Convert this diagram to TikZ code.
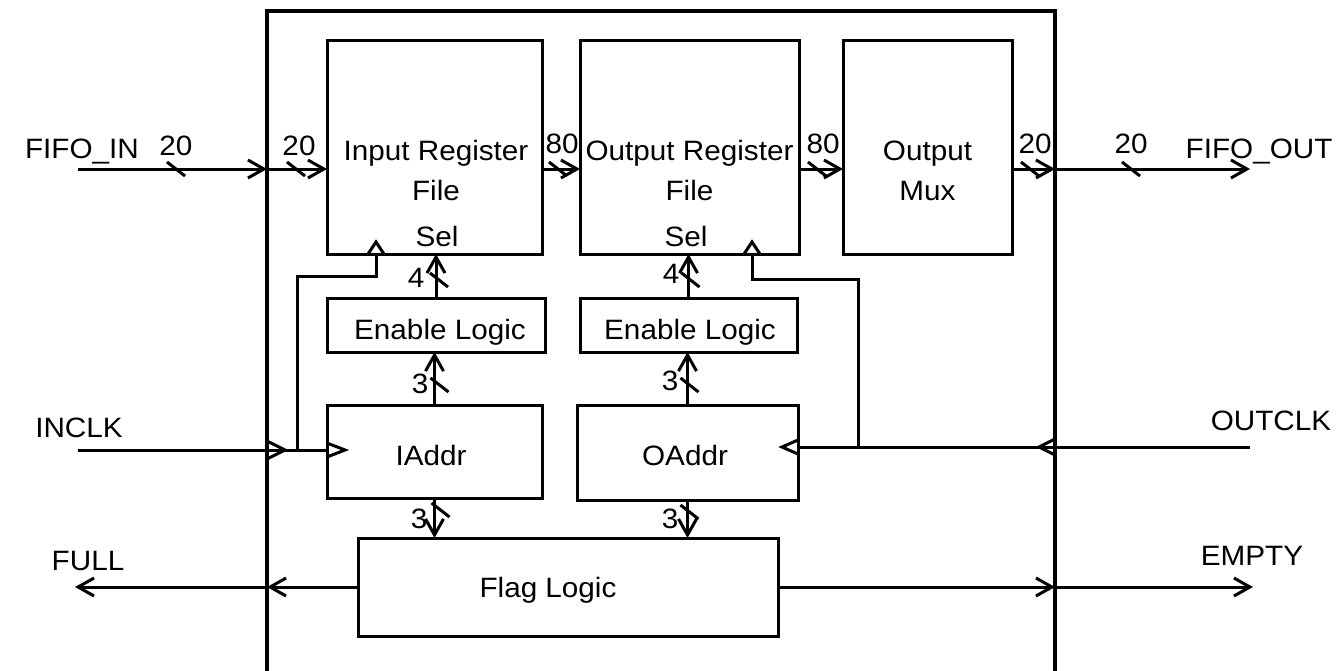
\documentclass[tikz,border=0pt]{standalone}
\usepackage{fontspec}
\setmainfont[FakeStretch=1.06]{Liberation Sans}
\usetikzlibrary{arrows.meta,calc}
\newcommand\busmark[1]{\draw #1 ++(-9,-7) -- ++(18,14);}
\newcommand\clkR[2]{\draw #1 ++(0,-#2) -- ++(18,#2) -- ++(-18,#2);}
\newcommand\clkL[2]{\draw #1 ++(0,-#2) -- ++(-16,#2) -- ++(16,#2);}
\newcommand\clkU[1]{\draw #1 ++(-8,0) -- ++(8,-12) -- ++(8,12);}
\begin{document}
\begin{tikzpicture}[x=0.5pt,y=-0.5pt,line width=1.5pt,
  box/.style={draw,inner sep=0pt,outer sep=0pt,line width=1.5pt},
  txt/.style={inner sep=0pt,outer sep=0pt,anchor=base,font=\fontsize{14pt}{16pt}\selectfont},
  arr/.style={-{Straight Barb[length=8pt,width=9pt]}}]
\useasboundingbox (0,0) rectangle (1337,670);
% outer frame
\draw[line width=2pt] (267,690) -- (267,11) -- (1055,11) -- (1055,690);
\coordinate (bL) at (267,0);
\coordinate (bR) at (1055,0);
% boxes
\node[box,minimum width=107.5pt,minimum height=107pt] (irf) at (434.5,147) {};
\node[box,minimum width=109.5pt,minimum height=107pt] (orf) at (689.5,147) {};
\node[box,minimum width=84.5pt,minimum height=107pt] (mux) at (927.5,147) {};
\node[box,minimum width=109pt,minimum height=27pt] (en1) at (436,325) {};
\node[box,minimum width=108.5pt,minimum height=27pt] (en2) at (688.5,325) {};
\node[box,minimum width=107.5pt,minimum height=46.5pt] (ia) at (434.5,451.5) {};
\node[box,minimum width=110.5pt,minimum height=47.5pt] (oa) at (687.5,452.5) {};
\node[box,minimum width=210pt,minimum height=49pt] (flag) at (568,587) {};
% box texts
\node[txt] (t1) at (436,160) {Input Register};
\node[txt] (t2) at (436,200) {File};
\node[txt] (t3) at (437,246) {Sel};
\node[txt] (t4) at (689.5,160) {Output Register};
\node[txt] (t5) at (689.5,200) {File};
\node[txt] (t6) at (686,246) {Sel};
\node[txt] (t7) at (927.5,160) {Output};
\node[txt] (t8) at (927.5,200) {Mux};
\node[txt] (t9) at (440,339) {Enable Logic};
\node[txt] (t10) at (690,339) {Enable Logic};
\node[txt] (t11) at (431,465) {IAddr};
\node[txt] (t12) at (685,465) {OAddr};
\node[txt] (t13) at (548,597) {Flag Logic};
% outside labels
\node[txt] (lin) at (82,158) {FIFO\_IN};
\node[txt] (lout) at (1259,158) {FIFO\_OUT};
\node[txt] (linclk) at (79,437) {INCLK};
\node[txt] (loutclk) at (1271,430) {OUTCLK};
\node[txt] (lfull) at (88,570) {FULL};
\node[txt] (lempty) at (1252,565) {EMPTY};
% bus width labels
\node[txt] (w1) at (176,155) {20};
\node[txt] (w2) at (299,155) {20};
\node[txt] (w3) at (562,153) {80};
\node[txt] (w4) at (823,153) {80};
\node[txt] (w5) at (1035,153) {20};
\node[txt] (w6) at (1131,153) {20};
\node[txt] (w7) at (416,287) {4};
\node[txt] (w8) at (420,393) {3};
\node[txt] (w9) at (671,283) {4};
\node[txt] (w10) at (670,390) {3};
\node[txt] (w11) at (419,528) {3};
\node[txt] (w12) at (670,528) {3};
% data bus
\coordinate (by) at (0,169);
\coordinate (fin) at (78,169);
\coordinate (fout) at (1250,169);
\draw[arr] (fin) -- (fin -| bL);
\draw[arr] (fin -| bL) -- (by -| irf.west);
\draw[arr] (by -| irf.east) -- (by -| orf.west);
\draw[arr] (by -| orf.east) -- (by -| mux.west);
\draw[arr] (by -| mux.east) -- (by -| bR);
\draw[arr] (by -| bR) -- (fout);
\busmark{(176,169)}
\busmark{(296,169)}
\busmark{(558,169)}
\busmark{(817,169)}
\busmark{(1030,169)}
\busmark{(1131,169)}
% vertical buses
\draw[arr] (en1.north) -- (en1.north |- irf.south);
\draw[arr] (ia.north) -- (ia.north |- en1.south);
\draw[arr] (en2.north) -- (en2.north |- orf.south);
\draw[arr] (oa.north) -- (oa.north |- en2.south);
\draw[arr] (ia.south) -- (ia.south |- flag.north);
\draw[arr] (oa.south) -- (oa.south |- flag.north);
\busmark{($(en1.north)+(3,-18)$)}
\busmark{($(ia.north)+(5,-20)$)}
\busmark{($(en2.north)+(2,-18)$)}
\busmark{($(oa.north)+(2,-20)$)}
\busmark{($(ia.south)+(6,12)$)}
\busmark{($(oa.south)+(2,12)$)}
% clocks
\coordinate (inclk) at (78,450);
\coordinate (jin) at (297,450);
\coordinate (outclk) at (1250,447);
\coordinate (jout) at (858,447);
\draw (inclk) -- (inclk -| ia.west);
\draw (jin) |- (376,276) -- (376,254);
\clkR{(inclk -| bL)}{9}
\clkR{(inclk -| ia.west)}{7}
\clkU{(376,254)}
\draw (outclk) -- (outclk -| oa.east);
\draw (jout) |- (752,279) -- (752,254);
\clkL{(outclk -| bR)}{8}
\clkL{(outclk -| oa.east)}{7}
\clkU{(752,254)}
% flags
\draw[arr] (flag.west) -- (flag.west -| bL);
\draw[arr] (flag.west -| bL) -- (75,587);
\draw[arr] (flag.east) -- (flag.east -| bR);
\draw[arr] (flag.east -| bR) -- (1253,587);
\end{tikzpicture}
\end{document}
